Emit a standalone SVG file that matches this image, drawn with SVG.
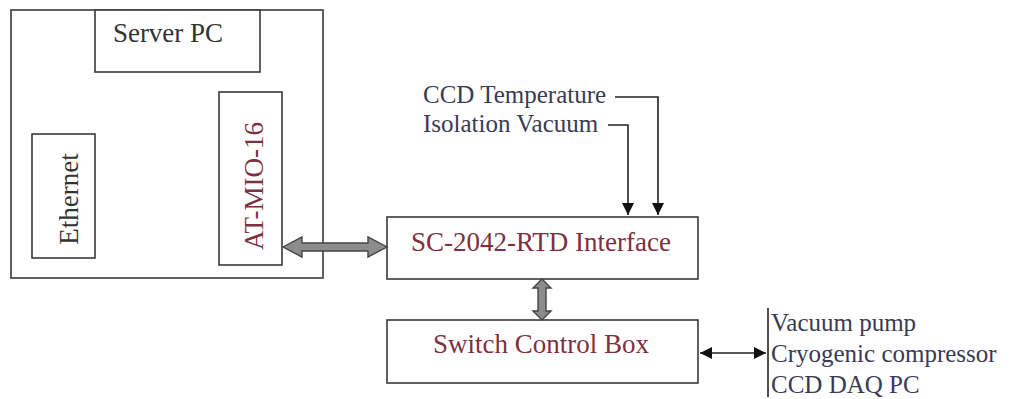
<svg xmlns="http://www.w3.org/2000/svg" width="1010" height="399" viewBox="0 0 1010 399">
<defs>
<style>
.box{fill:#fff;stroke:#3a3a3a;stroke-width:1.6}
.lbl{font-family:"Liberation Serif","Times New Roman",serif;font-size:27px;fill:#333}
.red{fill:#7e2f40}
.side{font-family:"Liberation Serif","Times New Roman",serif;font-size:25px;fill:#3a3a55}
.ln{fill:none;stroke:#222;stroke-width:1.6}
.big{fill:#8c8c8c;stroke:#444;stroke-width:1.4}
</style>
<marker id="ah" viewBox="0 0 10 10" refX="10" refY="5" markerWidth="12" markerHeight="12" markerUnits="userSpaceOnUse" orient="auto-start-reverse">
<path d="M0,0 L10,5 L0,10 Z" fill="#111"/>
</marker>
</defs>
<rect width="1010" height="399" fill="#fff"/>
<g id="server">
<rect class="box" x="11" y="10" width="312" height="268"/>
</g>
<g id="serverpc">
<rect class="box" x="95" y="10" width="165" height="62"/>
<text class="lbl" x="168" y="42" text-anchor="middle">Server PC</text>
</g>
<g id="ethernet">
<rect class="box" x="32" y="134" width="63" height="124"/>
<text class="lbl" transform="translate(78,199) rotate(-90)" text-anchor="middle">Ethernet</text>
</g>
<g id="atmio">
<rect class="box" x="219" y="92" width="63" height="173"/>
<text class="lbl red" transform="translate(263,186) rotate(-90)" text-anchor="middle">AT-MIO-16</text>
</g>
<g id="sc2042">
<rect class="box" x="387" y="217" width="311" height="62"/>
<text class="lbl red" x="541" y="251" text-anchor="middle">SC-2042-RTD Interface</text>
</g>
<g id="switchbox">
<rect class="box" x="387" y="320" width="311" height="63"/>
<text class="lbl red" x="541" y="353" text-anchor="middle">Switch Control Box</text>
</g>
<g id="inputs">
<text class="side" x="423" y="103">CCD Temperature</text>
<text class="side" x="423" y="132">Isolation Vacuum</text>
</g>
<g id="devices">
<text class="side" x="771" y="331" fill="#222">Vacuum pump</text>
<text class="side" x="771" y="362">Cryogenic compressor</text>
<text class="side" x="771" y="393">CCD DAQ PC</text>
</g>
<g id="connectors">
<path class="ln" d="M615,97 H658 V215" marker-end="url(#ah)"/>
<path class="ln" d="M608,125 H628 V215" marker-end="url(#ah)"/>
<path class="big" d="M283,247 L302,237 L302,243 L368,243 L368,237 L387,247 L368,257 L368,251 L302,251 L302,257 Z"/>
<path class="big" d="M542,279 L551,288 L546,288 L546,311 L551,311 L542,320 L533,311 L538,311 L538,288 L533,288 Z"/>
<path class="ln" d="M700,353 H766" marker-start="url(#ah)" marker-end="url(#ah)"/>
<path class="ln" d="M768,308 V397"/>
</g>
</svg>
